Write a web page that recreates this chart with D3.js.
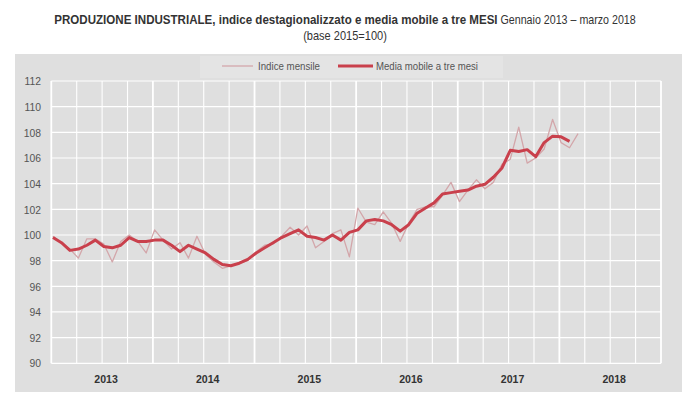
<!DOCTYPE html>
<html><head><meta charset="utf-8">
<script src="https://cdn.jsdelivr.net/npm/d3@7/dist/d3.min.js"></script>
<style>
html,body{margin:0;padding:0;background:#fff;}
svg{display:block;}
</style></head>
<body>
<svg id="c" width="696" height="417"></svg>
<script>
const years = ["2013","2014","2015","2016","2017","2018"];
const yTicks = [90,92,94,96,98,100,102,104,106,108,110,112];
// Indice mensile, Jan 2013 - Mar 2018
const monthly = [
 99.9, 99.4, 98.9, 98.2, 99.7, 99.7, 99.3, 97.9, 99.5,100.0, 99.5, 98.6,
100.4, 99.6, 98.9, 99.4, 98.2, 99.9, 98.5, 97.9, 97.4, 97.6, 97.8, 98.0,
 98.7, 99.2, 99.3, 99.9,100.6,100.0,100.7, 99.0, 99.5,100.1,100.4, 98.3,
102.1,101.0,100.8,101.8,100.9, 99.5,100.9,102.0,102.2,102.2,103.1,104.1,
102.6,103.5,104.3,103.6,104.1,105.5,105.9,108.4,105.6,106.0,106.7,109.0,
107.2,106.8,107.9];
// Media mobile a tre mesi, Jan 2013 - Feb 2018
const movingAvg = [
 99.8, 99.4, 98.8, 98.9, 99.2, 99.6, 99.1, 99.0, 99.2, 99.8, 99.5, 99.5,
 99.6, 99.6, 99.2, 98.7, 99.2, 98.9, 98.6, 98.1, 97.7, 97.6, 97.8, 98.1,
 98.6, 99.0, 99.4, 99.8,100.1,100.4, 99.9, 99.8, 99.6,100.0, 99.6,100.2,
100.4,101.1,101.2,101.1,100.8,100.3,100.8,101.7,102.1,102.5,103.2,103.3,
103.4,103.5,103.8,103.95,104.5,105.2,106.6,106.5,106.65,106.1,107.2,107.7,
107.65,107.3];
const legendLabels = ["Indice mensile","Media mobile a tre mesi"];

const svg = d3.select("#c");
const FONT = "'Liberation Sans Narrow','Arial Narrow','Liberation Sans',Arial,sans-serif";
const L = 51.3, R = 661, T = 81, B = 363.3;

// panel
svg.append("rect").attr("x",15).attr("y",54).attr("width",667).attr("height",338).attr("fill","#dfdfdf");
// legend box
svg.append("rect").attr("x",200).attr("y",56).attr("width",303).attr("height",22).attr("fill","#e4e4e4");

const x = d3.scaleLinear().domain([0,72]).range([L,R]);
const y = d3.scaleLinear().domain([90,112]).range([B,T]);

// horizontal grid
svg.append("g").selectAll("line").data(yTicks).join("line")
  .attr("x1",L).attr("x2",R).attr("y1",d=>y(d)).attr("y2",d=>y(d))
  .attr("stroke","#fff").attr("stroke-width",1.2);
// vertical grid (quarters)
svg.append("g").selectAll("line").data(d3.range(0,73,3)).join("line")
  .attr("x1",d=>x(d)).attr("x2",d=>x(d)).attr("y1",T).attr("y2",B)
  .attr("stroke","#fff").attr("stroke-width",d=>d%12===0?1.8:1.1);

// y axis labels
const yAxis = d3.axisLeft(y).tickValues(yTicks).tickSize(0).tickPadding(0);
const ya = svg.append("g").attr("transform",`translate(41,0)`).call(yAxis);
ya.select(".domain").remove();
ya.selectAll("text").attr("font-family",FONT).attr("font-size",11.5).attr("fill","#555")
  .attr("transform","scale(0.9,1)").attr("x",0);

// x axis year labels
const xYear = d3.scaleBand().domain(years).range([L,R]);
const xa = svg.append("g").attr("transform",`translate(4,${B+12})`)
  .call(d3.axisBottom(xYear).tickSize(0).tickPadding(0));
xa.select(".domain").remove();
xa.selectAll("text").attr("font-family",FONT).attr("font-size",11.5)
  .attr("font-weight","bold").attr("fill","#333").attr("transform","scale(0.92,1)");

const line = d3.line().x((d,i)=>x(i+0.2)).y(d=>y(d));
svg.append("path").datum(monthly).attr("d",line).attr("fill","none")
  .attr("stroke","#d3a6aa").attr("stroke-width",1.3).attr("stroke-linejoin","round");
svg.append("path").datum(movingAvg).attr("d",line).attr("fill","none")
  .attr("stroke","#c9404c").attr("stroke-width",3).attr("stroke-linejoin","round");

// legend
const lg = svg.append("g").attr("font-family",FONT).attr("font-size",11).attr("fill","#555");
lg.append("line").attr("x1",222).attr("x2",253).attr("y1",66).attr("y2",66).attr("stroke","#d3a6aa").attr("stroke-width",1.3);
lg.append("text").attr("x",258).attr("y",70).attr("textLength",62).attr("lengthAdjust","spacingAndGlyphs").text(legendLabels[0]);
lg.append("line").attr("x1",338).attr("x2",373).attr("y1",66).attr("y2",66).attr("stroke","#c9404c").attr("stroke-width",3);
lg.append("text").attr("x",376).attr("y",70).attr("textLength",102).attr("lengthAdjust","spacingAndGlyphs").text(legendLabels[1]);

// title
const t = svg.append("text").attr("transform","translate(345,24) scale(0.89,1)").attr("text-anchor","middle")
  .attr("font-family",FONT).attr("font-size",13).attr("fill","#333");
t.append("tspan").attr("font-weight","bold").text("PRODUZIONE INDUSTRIALE, indice destagionalizzato e media mobile a tre MESI");
t.append("tspan").attr("font-size",12).text(" Gennaio 2013 \u2013 marzo 2018");
svg.append("text").attr("transform","translate(345,40) scale(0.92,1)").attr("text-anchor","middle")
  .attr("font-family",FONT).attr("font-size",12).attr("fill","#333").text("(base 2015=100)");
</script>
</body></html>
